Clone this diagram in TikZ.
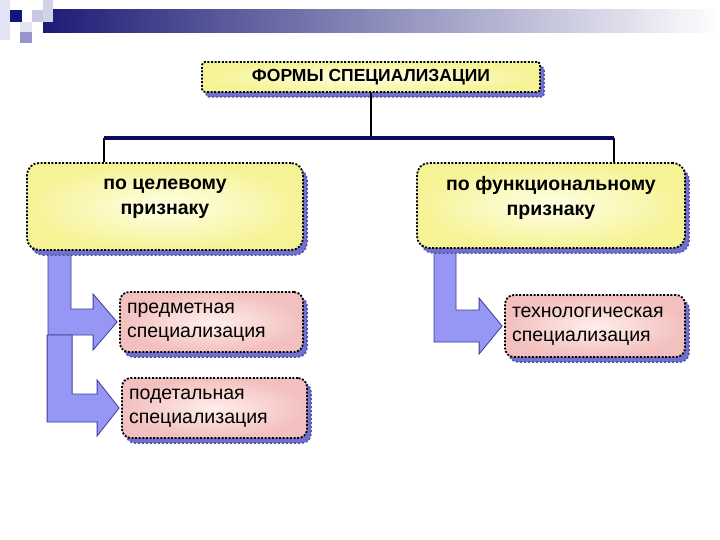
\documentclass[tikz,border=0pt]{standalone}
\usepackage{fontspec}
\setmainfont{Liberation Sans}
\usetikzlibrary{shadows,calc,backgrounds}

\definecolor{bannerblue}{RGB}{28,28,118}
\definecolor{sqnavy}{RGB}{20,20,125}
\definecolor{sqpale}{RGB}{228,228,242}
\definecolor{sqlight}{RGB}{200,200,226}
\definecolor{sqmid}{RGB}{150,150,205}
\definecolor{boxyellow}{RGB}{246,243,150}
\definecolor{boxcream}{RGB}{255,255,230}
\definecolor{boxrose}{RGB}{242,192,190}
\definecolor{boxblush}{RGB}{255,238,234}
\definecolor{shadowblue}{RGB}{112,112,208}
\definecolor{arrowfill}{RGB}{150,150,245}
\definecolor{arrowedge}{RGB}{60,60,150}
\definecolor{busnavy}{RGB}{10,10,90}

\tikzset{
  dotborder/.style={draw=black, line width=1.8pt, dash pattern=on 2pt off 1.6pt},
  blueshadow/.style={general shadow={shadow xshift=4pt, shadow yshift=-5pt,
      fill=shadowblue, draw=shadowblue!75!black, line width=1.5pt, dash pattern=on 2pt off 2pt}},
  titlebox/.style={dotborder, blueshadow, rounded corners=3pt, shade,
      inner color=boxcream, outer color=boxyellow, minimum width=338, minimum height=30,
      font=\bfseries\fontsize{17.5}{20}\selectfont},
  critbox/.style={dotborder, blueshadow, rounded corners=12pt, shade,
      inner color=boxcream, outer color=boxyellow},
  crittext/.style={font=\bfseries\fontsize{19.5}{25}\selectfont, align=center},
  kindbox/.style={dotborder, blueshadow, rounded corners=9pt, shade,
      inner color=boxblush, outer color=boxrose, inner xsep=7pt,
      font=\fontsize{19.5}{24}\selectfont, align=left},
  stem/.style={black, line width=2.5pt},
  bus/.style={busnavy, line width=3.5pt},
  bigarrow/.style={fill=arrowfill, draw=arrowedge, line width=0.8pt, line join=miter}
}

\begin{document}
\begin{tikzpicture}[x=1pt, y=-1pt]
  \useasboundingbox (0,0) rectangle (720,540);
  \begin{scope}[on background layer]
    \fill[white] (0,0) rectangle (720,540);
  \end{scope}

  % banner
  \fill[sqpale] (0,0) rectangle (10,40);
  \shade[left color=bannerblue, right color=white] (43,10) rectangle (720,33);
  \fill[sqnavy] (10,10) rectangle (22,22);
  \fill[sqlight] (32,10) rectangle (43,22);
  \fill[sqlight!80!white] (43,0) rectangle (53,22);
  \fill[sqpale] (20,22) rectangle (32,32);
  \fill[sqmid] (20,32) rectangle (32,43);

  \node[titlebox] (forms) at (371,77) {ФОРМЫ СПЕЦИАЛИЗАЦИИ};

  \node[critbox, minimum width=276, minimum height=87,
        label={[crittext, yshift=8pt]center:{по целевому\\признаку}}] (goal) at (165,206.5) {};
  \node[critbox, minimum width=268, minimum height=85,
        label={[crittext, yshift=8pt]center:{по функциональному\\признаку}}] (func) at (551,205.5) {};

  \node[kindbox, text width=169, minimum height=60] (subj) at (211.5,322) {предметная\\специализация};
  \node[kindbox, text width=171, minimum height=60] (detail) at (214.5,408) {подетальная\\специализация};
  \node[kindbox, text width=166, minimum height=62] (tech) at (595,326) {технологическая\\специализация};

  \coordinate (busL) at (104,138);
  \coordinate (busR) at (614,138);
  \draw[stem] (forms.south) -- (forms.south |- busL);
  \draw[stem] (busL) -- (busL |- goal.north);
  \draw[stem] (busR) -- (busR |- func.north);
  \draw[bus] (busL) -- (busR);

  \begin{scope}[on background layer]
    \coordinate (t1) at ([xshift=-2pt]subj.west);
    \coordinate (t2) at ([xshift=-2pt]detail.west);
    \coordinate (t3) at ([xshift=-2pt]tech.west);
    \draw[bigarrow] (goal.south -| 48,0) -- (goal.south -| 71,0) |- ($(t1)+(-24,-13)$)
      -- ++(0,-15) -- (t1) -- ++(-24,28) -- ++(0,-15) -| (goal.south -| 48,0) -- cycle;
    \draw[bigarrow] ($(t1)+(-70,13)$) -- ++(25,0) |- ($(t2)+(-22,-14)$)
      -- ++(0,-14) -- (t2) -- ++(-22,28) -- ++(0,-14) -| ($(t1)+(-70,13)$) -- cycle;
    \draw[bigarrow] (func.south -| 434,0) -- (func.south -| 456,0) |- ($(t3)+(-23,-16)$)
      -- ++(0,-12) -- (t3) -- ++(-23,28) -- ++(0,-12) -| (func.south -| 434,0) -- cycle;
  \end{scope}
\end{tikzpicture}
\end{document}
